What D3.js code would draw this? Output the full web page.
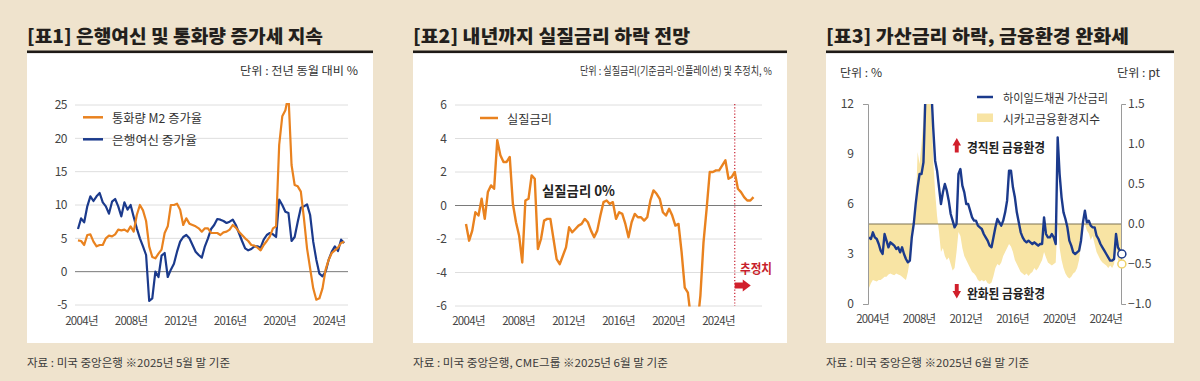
<!DOCTYPE html>
<html><head><meta charset="utf-8">
<script src="https://cdn.jsdelivr.net/npm/d3@7"></script>
<style>
body{margin:0;background:#efe3cd;}
svg{display:block;font-family:"Noto Sans CJK KR","Noto Sans",sans-serif;}
</style></head><body>
<svg id="c" width="1200" height="381"></svg>
<script>
// ---------- DATA ----------
const yearTicks = [2004, 2008, 2012, 2016, 2020, 2024];

// Panel 1: quarterly, from 2004 Q1
const p1Start = 2004, p1Step = 0.25;
const m2Growth = [4.7,4.6,4.0,5.5,5.6,4.5,3.8,4.0,4.0,5.0,
  5.4,5.3,5.6,6.3,6.2,6.3,6.0,6.8,6.0,8.5,
  10.0,9.2,7.6,3.8,2.2,2.0,2.7,3.3,5.8,6.8,
  10.0,10.0,10.2,9.3,7.0,8.0,7.2,7.0,6.8,6.5,
  6.0,6.5,6.5,5.8,5.8,5.8,5.5,5.9,6.0,6.3,
  7.0,6.6,6.0,5.5,5.0,4.6,4.0,3.9,3.6,3.2,
  4.0,4.6,5.3,6.5,6.8,19.0,23.3,24.2,26.5,16.0,
  13.0,12.8,12.0,8.0,3.5,0.5,-2.5,-4.2,-4.0,-2.5,
  0.3,1.8,2.8,3.2,3.6,4.3,4.5];
const creditGrowth = [6.4,8.0,7.4,9.8,11.3,10.6,11.3,11.8,10.4,9.8,
  8.7,10.5,10.9,9.8,8.3,10.4,9.3,10.0,8.2,6.5,
  5.0,3.8,2.5,-4.4,-4.0,0.0,-0.8,2.4,2.8,-0.8,
  0.3,1.2,3.0,4.5,5.2,5.5,5.0,4.0,3.0,2.5,
  2.1,3.8,5.0,6.4,7.0,7.9,7.8,7.6,7.3,7.5,
  7.8,7.0,5.8,4.6,3.5,3.2,3.4,3.8,3.8,3.6,
  4.8,5.5,5.8,5.6,5.2,10.8,10.0,9.0,8.8,4.6,
  5.2,7.5,9.6,9.8,10.1,8.5,4.5,1.8,-0.3,-0.7,
  0.0,1.8,3.0,3.8,3.1,4.8,4.3];
const p1YTicks = [-5, 0, 5, 10, 15, 20, 25];

// Panel 2: quarterly real rate, from 2004 Q1 (forecast after mid-2025)
const p2Start = 2004, p2Step = 0.25;
const realRate = [-1.1,-2.1,-1.5,-0.4,-0.6,0.4,-0.8,0.8,1.2,1.0,
  3.9,3.0,2.6,2.6,2.9,0.1,-1.0,-1.8,-3.4,0.3,
  0.4,1.8,1.6,-2.6,-2.0,-0.9,-0.8,-0.8,-2.0,-3.2,
  -3.5,-3.0,-2.5,-1.3,-1.6,-1.4,-1.2,-1.1,-0.8,-1.0,
  -1.5,-1.9,-1.5,-0.6,0.2,0.3,0.1,0.2,-0.8,-0.4,
  -0.5,-1.1,-1.9,-1.0,-0.5,-0.7,-0.7,-0.9,-0.7,0.3,
  0.9,0.7,0.4,-0.4,-0.6,-0.2,-0.6,-1.2,-1.1,-2.8,
  -4.9,-5.2,-6.8,-8.0,-7.2,-5.4,-2.2,-0.2,2.0,2.0,
  2.1,2.1,2.4,2.7,1.6,1.7,2.0,1.0,0.8,0.5,
  0.3,0.3,0.5];
const forecastStart = 2025.5;
const p2YTicks = [-6, -4, -2, 0, 2, 4, 6];

// Panel 3: bi-monthly, from 2004 Jan
const p3Start = 2004, p3Step = 1 / 6;
const hySpread = [4.0,3.9,4.3,4.0,3.9,3.6,3.2,3.0,4.2,3.8,
  3.4,3.7,3.6,3.5,3.3,3.4,3.1,3.4,3.0,2.7,
  2.5,2.6,4.0,4.8,6.0,7.0,7.8,7.8,8.5,12.5,
  18.0,16.0,13.0,10.6,8.6,8.0,7.0,6.0,6.7,7.2,
  6.8,6.2,5.4,5.0,4.6,4.8,7.8,8.1,7.1,6.7,
  6.0,6.0,5.6,5.2,5.0,5.0,4.7,4.6,4.5,4.2,
  4.0,3.8,3.5,3.4,4.0,4.6,5.1,4.9,4.7,5.0,
  5.5,6.2,8.0,8.0,7.0,6.4,5.5,4.9,4.3,4.0,
  3.8,3.7,3.8,3.7,3.6,3.7,3.6,3.5,3.6,3.6,
  5.2,4.2,4.0,4.0,4.2,4.0,3.6,10.0,7.8,6.4,
  5.5,5.1,4.6,3.8,3.5,3.1,3.0,3.1,3.2,3.8,
  4.9,5.6,4.9,5.0,4.7,4.6,4.6,4.1,3.9,3.6,
  3.4,3.2,3.0,2.8,2.6,2.6,2.7,4.2,3.4,3.2,
  3.0];
const nfci = [-0.80,-0.74,-0.70,-0.71,-0.72,-0.70,-0.70,-0.68,-0.66,-0.66,
  -0.63,-0.62,-0.63,-0.64,-0.62,-0.63,-0.64,-0.66,-0.68,-0.70,
  -0.60,-0.45,-0.20,0.05,0.20,0.90,0.75,1.00,1.30,2.20,
  2.80,2.30,1.60,0.80,0.40,0.10,-0.10,-0.35,-0.30,-0.40,
  -0.45,-0.42,-0.50,-0.58,-0.55,-0.35,-0.10,-0.15,-0.30,-0.40,
  -0.45,-0.50,-0.55,-0.60,-0.62,-0.65,-0.70,-0.72,-0.70,-0.72,
  -0.70,-0.74,-0.75,-0.73,-0.65,-0.55,-0.50,-0.52,-0.48,-0.40,
  -0.35,-0.30,-0.25,-0.28,-0.35,-0.45,-0.50,-0.55,-0.60,-0.62,
  -0.64,-0.62,-0.65,-0.62,-0.60,-0.55,-0.58,-0.55,-0.50,-0.45,
  -0.35,-0.42,-0.48,-0.50,-0.52,-0.50,-0.48,0.05,-0.30,-0.45,
  -0.55,-0.62,-0.66,-0.68,-0.66,-0.62,-0.60,-0.55,-0.45,-0.25,
  -0.05,0.00,-0.08,-0.12,-0.20,-0.15,-0.25,-0.35,-0.40,-0.45,
  -0.48,-0.50,-0.52,-0.55,-0.52,-0.55,-0.50,-0.30,-0.45,-0.50,
  -0.50];
const p3LeftTicks = [0, 3, 6, 9, 12];
const p3RightTicks = [-1.0, -0.5, 0.0, 0.5, 1.0, 1.5];

// ---------- STYLE ----------
const C = {
  bg: "#efe3cd", orange: "#e9821f", navy: "#1b3a8c", yellow: "#f8e4a4",
  red: "#d11f2b", grid: "#dedede", zero: "#7a7a7a", text: "#444", dark: "#222"
};

const svg = d3.select("#c");
svg.append("rect").attr("width", 1200).attr("height", 381).attr("fill", C.bg);

function label(g, x, y, s, o = {}) {
  const t = g.append("text").attr("x", x).attr("y", y).text(s)
    .attr("font-size", o.size || 12).attr("fill", o.fill || "#333")
    .attr("font-weight", o.weight || 400)
    .attr("text-anchor", o.anchor || "start")
    .attr("dominant-baseline", "central");
  if (o.w) t.attr("textLength", o.w).attr("lengthAdjust", "spacingAndGlyphs");
  return t;
}

const panels = [
  {x0: 27, x1: 373, title: "[표1] 은행여신 및 통화량 증가세 지속", tw: 296,
   src: "자료 : 미국 중앙은행 ※2025년 5월 말 기준", sw: 203},
  {x0: 413, x1: 787, title: "[표2] 내년까지 실질금리 하락 전망", tw: 277,
   src: "자료 : 미국 중앙은행, CME그룹 ※2025년 6월 말 기준", sw: 255},
  {x0: 826, x1: 1174, title: "[표3] 가산금리 하락, 금융환경 완화세", tw: 303,
   src: "자료 : 미국 중앙은행 ※2025년 6월 말 기준", sw: 203}
];
panels.forEach(p => {
  svg.append("rect").attr("x", p.x0).attr("y", 52).attr("width", p.x1 - p.x0)
    .attr("height", 291).attr("fill", "#fff");
  svg.append("rect").attr("x", p.x0).attr("y", 50.5).attr("width", p.x1 - p.x0)
    .attr("height", 2.6).attr("fill", "#1e1a17");
  label(svg, p.x0, 35, p.title, {size: 18.5, weight: 900, fill: "#231f1c", w: p.tw});
  label(svg, p.x0, 362, p.src, {size: 11, fill: "#3a3a3a", w: p.sw});
});

function xLabels(g, xs, y, dx) {
  const ax = d3.axisBottom(xs).tickValues(yearTicks).tickFormat(d => d + "년")
    .tickSize(0).tickPadding(0);
  const a = g.append("g").attr("transform", `translate(0,${y})`).call(ax);
  a.select(".domain").remove();
  a.selectAll("text").attr("font-size", 11.5).attr("fill", C.text)
    .attr("font-family", '"Noto Sans CJK KR",sans-serif')
    .attr("letter-spacing", -0.7).attr("dx", dx).attr("dy", 0)
    .attr("dominant-baseline", "central");
}

// ---------- PANEL 1 ----------
{
  const g = svg.append("g");
  const x = d3.scaleLinear().domain([2004, 2025.5]).range([78, 78 + 21.5 * 12.38]);
  const y = d3.scaleLinear().domain([-5, 25]).range([305, 105]);
  g.selectAll(".grid").data(p1YTicks).join("line")
    .attr("x1", 75).attr("x2", 348).attr("y1", d => y(d)).attr("y2", d => y(d))
    .attr("stroke", d => d === 0 ? C.zero : C.grid).attr("stroke-width", 1);
  const ay = g.append("g").attr("transform", "translate(75,0)")
    .call(d3.axisLeft(y).tickValues(p1YTicks).tickFormat(d => String(d)).tickSize(0).tickPadding(8));
  ay.select(".domain").remove();
  ay.selectAll("text").attr("font-size", 12).attr("fill", C.text)
    .attr("font-family", '"Noto Sans CJK KR",sans-serif').attr("letter-spacing", -0.5);
  xLabels(g, x, 320, 3);

  g.append("clipPath").attr("id", "clip1").append("rect")
    .attr("x", 70).attr("y", 103).attr("width", 290).attr("height", 205);
  const line = d3.line().x((d, i) => x(p1Start + i * p1Step)).y(d => y(d));
  const lg = g.append("g").attr("clip-path", "url(#clip1)");
  lg.append("path").datum(creditGrowth).attr("d", line).attr("fill", "none")
    .attr("stroke", C.navy).attr("stroke-width", 2.2).attr("stroke-linejoin", "round");
  lg.append("path").datum(m2Growth).attr("d", line).attr("fill", "none")
    .attr("stroke", C.orange).attr("stroke-width", 2.2).attr("stroke-linejoin", "round");

  g.append("line").attr("x1", 83).attr("x2", 103).attr("y1", 117.3).attr("y2", 117.3)
    .attr("stroke", C.orange).attr("stroke-width", 2.5);
  label(g, 112, 117, "통화량 M2 증가율", {size: 12.5, fill: "#333", w: 90});
  g.append("line").attr("x1", 83).attr("x2", 103).attr("y1", 139.3).attr("y2", 139.3)
    .attr("stroke", C.navy).attr("stroke-width", 2.5);
  label(g, 112, 139, "은행여신 증가율", {size: 12.5, fill: "#333", w: 85});
  label(g, 358, 70, "단위 : 전년 동월 대비 %", {size: 11.5, anchor: "end", w: 118});
}

// ---------- PANEL 2 ----------
{
  const g = svg.append("g");
  const x = d3.scaleLinear().domain([2004, 2027]).range([466, 466 + 23 * 12.5]);
  const y = d3.scaleLinear().domain([-6, 6]).range([306, 105]);
  g.selectAll(".grid").data(p2YTicks).join("line")
    .attr("x1", 455).attr("x2", 762).attr("y1", d => y(d)).attr("y2", d => y(d))
    .attr("stroke", d => d === 0 ? C.zero : C.grid).attr("stroke-width", 1);
  const ay = g.append("g").attr("transform", "translate(455,0)")
    .call(d3.axisLeft(y).tickValues(p2YTicks).tickFormat(d => String(d)).tickSize(0).tickPadding(8));
  ay.select(".domain").remove();
  ay.selectAll("text").attr("font-size", 12).attr("fill", C.text)
    .attr("font-family", '"Noto Sans CJK KR",sans-serif');
  xLabels(g, x, 320, 2);

  const fx = x(forecastStart);
  g.append("line").attr("x1", fx).attr("x2", fx).attr("y1", 104).attr("y2", 306)
    .attr("stroke", "#c8202f").attr("stroke-width", 1.2).attr("stroke-dasharray", "1.2,2");

  g.append("clipPath").attr("id", "clip2").append("rect")
    .attr("x", 450).attr("y", 100).attr("width", 320).attr("height", 206.5);
  const line = d3.line().x((d, i) => x(p2Start + i * p2Step)).y(d => y(d));
  g.append("path").attr("clip-path", "url(#clip2)").datum(realRate).attr("d", line)
    .attr("fill", "none").attr("stroke", C.orange).attr("stroke-width", 2.4)
    .attr("stroke-linejoin", "round");

  g.append("line").attr("x1", 480).attr("x2", 498).attr("y1", 118).attr("y2", 118)
    .attr("stroke", C.orange).attr("stroke-width", 2.5);
  label(g, 507, 118, "실질금리", {size: 12.5, fill: "#333", w: 45});
  label(g, 542, 190, "실질금리 0%", {size: 14, weight: 700, fill: C.dark, w: 73});
  label(g, 740, 267, "추정치", {size: 13, weight: 700, fill: "#c81e2c", w: 32});
  g.append("path").attr("d", `M${fx},282.5H${fx + 8}V279.5L${fx + 16},285.5L${fx + 8},291.5V288.5H${fx}Z`)
    .attr("fill", C.red);
  label(g, 772, 70, "단위 : 실질금리(기준금리-인플레이션) 및 추정치, %", {size: 11, anchor: "end", w: 192});
}

// ---------- PANEL 3 ----------
{
  const g = svg.append("g");
  const x = d3.scaleLinear().domain([2004, 2025.5]).range([869, 869 + 21.5 * 11.67]);
  const yL = d3.scaleLinear().domain([0, 12]).range([304, 104]);
  const yR = d3.scaleLinear().domain([-1, 1.5]).range([304, 104]);

  g.append("clipPath").attr("id", "clip3").append("rect")
    .attr("x", 868).attr("y", 104).attr("width", 256).attr("height", 201);
  const xi = (d, i) => x(p3Start + i * p3Step);
  const area = d3.area().x(xi).y0(yR(0)).y1(d => yR(d));
  g.append("path").attr("clip-path", "url(#clip3)").datum(nfci).attr("d", area)
    .attr("fill", C.yellow);
  g.append("line").attr("x1", 868).attr("x2", 1121).attr("y1", yR(0)).attr("y2", yR(0))
    .attr("stroke", "#7d7252").attr("stroke-width", 1.2);
  const line = d3.line().x(xi).y(d => yL(d));
  g.append("path").attr("clip-path", "url(#clip3)").datum(hySpread).attr("d", line)
    .attr("fill", "none").attr("stroke", C.navy).attr("stroke-width", 2.4)
    .attr("stroke-linejoin", "round");

  const aL = g.append("g").attr("transform", "translate(868,0)")
    .call(d3.axisLeft(yL).tickValues(p3LeftTicks).tickSizeInner(0).tickSizeOuter(5).tickPadding(14));
  const aR = g.append("g").attr("transform", "translate(1121,0)")
    .call(d3.axisRight(yR).tickValues(p3RightTicks).tickFormat(d3.format(".1f"))
      .tickSizeInner(0).tickSizeOuter(5).tickPadding(7));
  [aL, aR].forEach(a => {
    a.select(".domain").attr("stroke", "#9a9a9a");
    a.selectAll("text").attr("font-size", 12).attr("fill", C.text)
      .attr("font-family", '"Noto Sans CJK KR",sans-serif');
  });
  xLabels(g, x, 318, 3);

  const n = hySpread.length - 1;
  g.append("circle").attr("cx", xi(0, n)).attr("cy", yL(hySpread[n])).attr("r", 4)
    .attr("fill", "#fff").attr("stroke", C.navy).attr("stroke-width", 1.5);
  g.append("circle").attr("cx", xi(0, n)).attr("cy", yR(nfci[n])).attr("r", 4)
    .attr("fill", "#fff").attr("stroke", "#f0d36a").attr("stroke-width", 1.5);

  g.append("line").attr("x1", 977).attr("x2", 993).attr("y1", 97).attr("y2", 97)
    .attr("stroke", C.navy).attr("stroke-width", 2.5);
  label(g, 1003, 97, "하이일드채권 가산금리", {size: 12.5, fill: "#333", w: 105});
  g.append("rect").attr("x", 977).attr("y", 113.5).attr("width", 16).attr("height", 8.5)
    .attr("fill", C.yellow);
  label(g, 1003, 118, "시카고금융환경지수", {size: 12.5, fill: "#333", w: 97});

  g.append("path").attr("d", "M952.5,145.5L956.8,138L961,145.5H958.7V152.5H954.8V145.5Z").attr("fill", C.red);
  label(g, 967, 146, "경직된 금융환경", {size: 13, weight: 700, fill: C.dark, w: 78});
  g.append("path").attr("d", "M952.5,291L956.8,298.5L961,291H958.7V284H954.8V291Z").attr("fill", C.red);
  label(g, 967, 292.5, "완화된 금융환경", {size: 13, weight: 700, fill: C.dark, w: 78});

  label(g, 840, 72, "단위 : %", {size: 11.5, w: 42});
  label(g, 1160, 72, "단위 : pt", {size: 11.5, anchor: "end", w: 43});
}
</script>
</body></html>
